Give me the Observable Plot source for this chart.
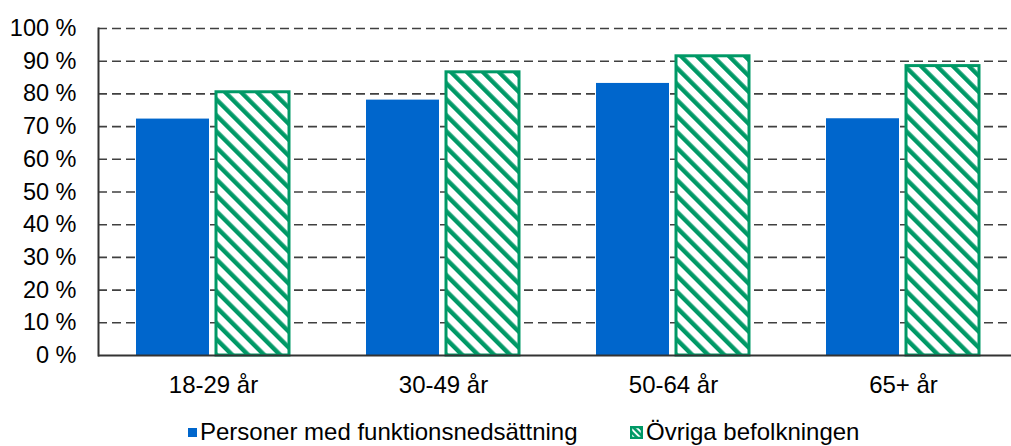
<!DOCTYPE html>
<html>
<head>
<meta charset="utf-8">
<script src="https://cdn.jsdelivr.net/npm/d3@7"></script>
<script src="https://cdn.jsdelivr.net/npm/@observablehq/plot@0.6"></script>
<style>
  html, body { margin: 0; padding: 0; background: #fff; overflow: hidden; }
  body { width: 1011px; height: 446px; position: relative; font-family: "Liberation Sans", Arial, sans-serif; }
  #chart { position: absolute; left: 0; top: 0; width: 1019px; }
  #chart svg { max-width: none !important; }
  #legend { position: absolute; left: 0; top: 418px; width: 1011px; height: 28px; font-size: 24px; color: #000; }
  .item { position: absolute; top: 0; height: 28px; line-height: 28px; display: flex; align-items: center; white-space: nowrap; }
  .item svg { margin-right: 3px; }
</style>
</head>
<body>
<div id="chart"></div>
<div id="legend"></div>
<script>
const ages = ["18-29 år", "30-49 år", "50-64 år", "65+ år"];
const series = ["Personer med funktionsnedsättning", "Övriga befolkningen"];
const disabled = [72.3, 78.1, 83.2, 72.4];
const others = [80.5, 86.6, 91.5, 88.5];
const yTicks = [0, 10, 20, 30, 40, 50, 60, 70, 80, 90, 100];

const blue = "#0066CC";
const green = "#009966";

const data = [];
ages.forEach((a, i) => {
  data.push({age: a, series: series[0], value: disabled[i]});
  data.push({age: a, series: series[1], value: others[i]});
});

const font = "Liberation Sans, Arial, sans-serif";

const plot = Plot.plot({
  width: 1019,
  height: 418,
  marginLeft: 96,
  marginRight: 0,
  marginTop: 28,
  marginBottom: 63,
  style: {fontFamily: font, fontSize: "23px", color: "#000", background: "transparent", overflow: "visible", maxWidth: "none"},
  fx: {domain: ages, padding: 0, label: null},
  x: {domain: series, paddingInner: 0.086, paddingOuter: 0.468, axis: null},
  y: {domain: [0, 100], label: null, axis: null},
  marks: [
    Plot.ruleY(yTicks.slice(1), {stroke: "#404040", strokeWidth: 1.6, strokeDasharray: "9,5"}),
    Plot.barY(data.filter(d => d.series === series[0]), {fx: "age", x: "series", y: "value", fill: blue}),
    Plot.barY(data.filter(d => d.series === series[1]), {fx: "age", x: "series", y: "value", fill: "url(#hatch)", stroke: green, strokeWidth: 3}),
    Plot.ruleY([0], {stroke: "#333", strokeWidth: 2}),
    Plot.frame({anchor: "left", stroke: "#333", strokeWidth: 2, facetAnchor: "left"}),
    Plot.axisY(yTicks, {anchor: "left", tickSize: 0, tickPadding: 22, tickFormat: d => d + " %", fontSize: 23.5}),
    Plot.axisFx({anchor: "bottom", tickSize: 0, tickPadding: 20, fontSize: 24, label: null})
  ]
});

// hatch pattern definition
const ns = "http://www.w3.org/2000/svg";
const defs = document.createElementNS(ns, "defs");
defs.innerHTML = `
  <pattern id="hatch" patternUnits="userSpaceOnUse" width="11.3" height="11.3" patternTransform="rotate(-45)">
    <rect x="0" y="0" width="11.3" height="11.3" fill="#fff"></rect>
    <rect x="0" y="0" width="4.4" height="11.3" fill="${green}"></rect>
  </pattern>`;
plot.insertBefore(defs, plot.firstChild);
document.getElementById("chart").appendChild(plot);

// legend
const legend = document.getElementById("legend");
const items = [
  {label: series[0], left: 188, svg: `<svg width="9" height="9"><rect width="9" height="9" fill="${blue}"></rect></svg>`},
  {label: series[1], left: 630, svg: `<svg width="13" height="13"><defs><pattern id="hatchL" patternUnits="userSpaceOnUse" width="4.5" height="4.5" patternTransform="rotate(-45)"><rect width="4.5" height="4.5" fill="#fff"></rect><rect width="2.6" height="4.5" fill="${green}"></rect></pattern></defs><rect x="1" y="1" width="11" height="11" fill="url(#hatchL)" stroke="${green}" stroke-width="2.5"></rect></svg>`}
];
items.forEach(it => {
  const div = document.createElement("div");
  div.className = "item";
  div.style.left = it.left + "px";
  div.innerHTML = it.svg + `<span>${it.label}</span>`;
  legend.appendChild(div);
});
</script>
</body>
</html>
